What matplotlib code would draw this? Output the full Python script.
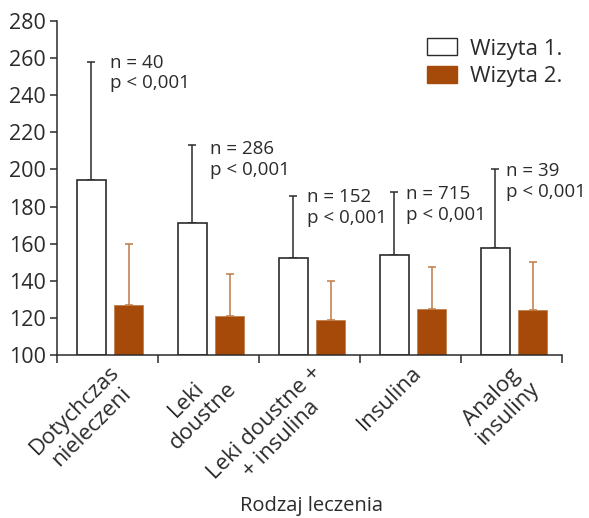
import matplotlib
matplotlib.use("Agg")
import matplotlib.pyplot as plt
import numpy as np
from matplotlib.patches import Patch

plt.rcParams['font.family'] = ['Open Sans', 'DejaVu Sans']

categories = ["Dotychczas\nnieleczeni", "Leki\ndoustne", "Leki doustne +\n+ insulina", "Insulina", "Analog\ninsuliny"]
visit1 = [194.5, 171.3, 152.3, 154.1, 157.5]
visit1_err_top = [258, 213.4, 185.7, 188, 200]
visit2 = [127.1, 121.2, 118.6, 125, 124.2]
visit2_err_top = [160, 143.9, 140, 147.3, 150]
n_labels = ["n = 40", "n = 286", "n = 152", "n = 715", "n = 39"]
p_labels = ["p < 0,001"] * 5
series_names = ["Wizyta 1.", "Wizyta 2."]

brown = "#A54A08"
dark = "#2b2b2b"

fig = plt.figure(figsize=(5.89, 5.18), dpi=100)
ax = fig.add_axes([57/589, 1-355/518, (562-57)/589, (355-21)/518])

x = np.arange(len(categories))
w = 0.29
x1 = x + 0.34
x2 = x + 0.71
v1 = np.array(visit1); v2 = np.array(visit2)
e1 = np.array(visit1_err_top) - v1
e2 = np.array(visit2_err_top) - v2

ax.bar(x1, v1 - 100, w, bottom=100, color="white", edgecolor=dark, linewidth=1.2, zorder=2)
ax.bar(x2, v2 - 100, w, bottom=100, color=brown, edgecolor="#c0804f", linewidth=0.6, zorder=2)
ax.errorbar(x1, v1, yerr=[np.zeros_like(e1), e1], fmt="none", ecolor=dark, elinewidth=1.1, capsize=3, capthick=1.1, zorder=1)
ax.errorbar(x2, v2, yerr=[np.zeros_like(e2), e2], fmt="none", ecolor="#c07a45", elinewidth=1.1, capsize=3, capthick=1.1, zorder=1)

ann_x = [0.52, 1.515, 2.475, 3.455, 4.45]
ann_y = [252, 205.5, 179.3, 181.2, 193.5]
for xi, yi, nl, pl in zip(ann_x, ann_y, n_labels, p_labels):
    ax.text(xi, yi, nl + "\n" + pl, fontsize=13.5, color=dark, ha="left", va="center",
            linespacing=1.2)

ax.set_xlim(0, 5)
ax.set_ylim(100, 280)
ax.set_yticks(np.arange(100, 281, 20))
ax.set_xticks(np.arange(0, 6))
ax.set_xticklabels([])
ax.tick_params(axis="y", labelsize=15.5, colors=dark, length=5, width=1.1, pad=3)
ax.tick_params(axis="x", length=6, width=1.1, colors=dark, direction="out")
for s in ["top", "right"]:
    ax.spines[s].set_visible(False)
for s in ["left", "bottom"]:
    ax.spines[s].set_color(dark)
    ax.spines[s].set_linewidth(1.1)

for xi, lab in zip(x + 0.5, categories):
    ax.text(xi + 0.01, 96.3, lab, rotation=45, ha="right", va="top", rotation_mode="anchor",
            fontsize=16, color=dark, multialignment="center", transform=ax.transData,
            clip_on=False, linespacing=1.15)

fig.text(311/589, 1-506/518, "Rodzaj leczenia", fontsize=14.5, color=dark, ha="center", va="center")

handles = [Patch(facecolor="white", edgecolor=dark, linewidth=1.0),
           Patch(facecolor=brown, edgecolor=brown)]
leg = ax.legend(handles, series_names, loc="upper left", bbox_to_anchor=(0.733, 0.948),
                frameon=False, fontsize=16, handlelength=1.36, handleheight=0.8,
                handletextpad=0.55, labelspacing=0.3, borderpad=0, borderaxespad=0)
for t in leg.get_texts():
    t.set_color(dark)

fig.savefig("out.png", dpi=100)
